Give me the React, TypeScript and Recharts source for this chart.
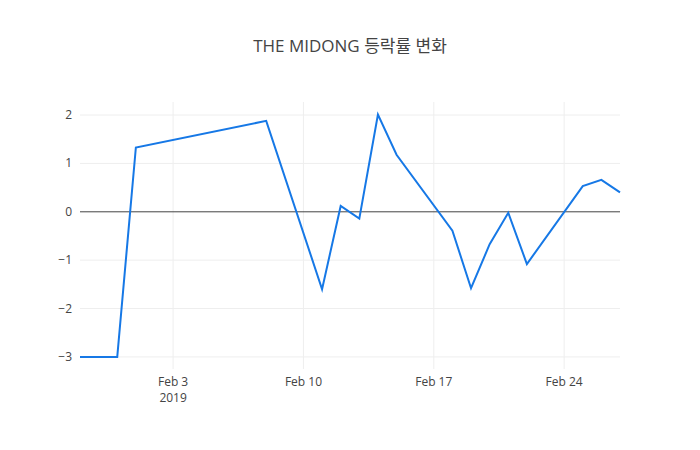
import React from "react"
import {
  LineChart,
  Line,
  XAxis,
  YAxis,
  ReferenceLine,
} from "recharts"

const dates = [
  "2019-01-29", "2019-01-31", "2019-02-01", "2019-02-08", "2019-02-11",
  "2019-02-12", "2019-02-13", "2019-02-14", "2019-02-15", "2019-02-18",
  "2019-02-19", "2019-02-20", "2019-02-21", "2019-02-22", "2019-02-25",
  "2019-02-26", "2019-02-27",
]

const changeRate = [
  -3, -3, 1.33, 1.88, -1.6,
  0.12, -0.14, 2.01, 1.18, -0.39,
  -1.58, -0.67, -0.02, -1.08, 0.53,
  0.66, 0.4,
]

const xTickDates = ["2019-02-03", "2019-02-10", "2019-02-17", "2019-02-24"]
const yTicks = [-3, -2, -1, 0, 1, 2]
const monthNames = ["Jan", "Feb", "Mar"]

const toTime = (d: string) => Date.parse(d + "T00:00:00Z")

const data = dates.map((d, i) => ({ t: toTime(d), value: changeRate[i] }))
const xTicks = xTickDates.map(toTime)

const FONT = '"Open Sans", "Noto Sans CJK KR", sans-serif'
const INK = "#444"
const GRID = "#eee"

function DateTick({ x, y, payload, index }: any) {
  const d = new Date(payload.value)
  const label = `${monthNames[d.getUTCMonth()]} ${d.getUTCDate()}`
  return (
    <g transform={`translate(${x},${y})`}>
      <text textAnchor="middle" fontSize={12} fill={INK} fontFamily={FONT} dy={9}>
        {label}
      </text>
      {index === 0 && (
        <text textAnchor="middle" fontSize={12} fill={INK} fontFamily={FONT} dy={25}>
          {d.getUTCFullYear()}
        </text>
      )}
    </g>
  )
}

function ValueTick({ x, y, payload }: any) {
  const v = payload.value as number
  const label = v < 0 ? `\u2212${Math.abs(v)}` : `${v}`
  return (
    <text x={x} y={y} dy={4} textAnchor="end" fontSize={12} fill={INK} fontFamily={FONT}>
      {label}
    </text>
  )
}

export default function App() {
  return (
    <div style={{ position: "absolute", left: 0, top: 0, width: 700, height: 450, background: "#fff" }}>
      <div
        style={{
          position: "absolute",
          top: 32,
          left: 0,
          width: 700,
          textAlign: "center",
          fontFamily: FONT,
          fontSize: 17,
          color: INK,
        }}
      >
        THE MIDONG 등락률 변화
      </div>
      <LineChart
        width={700}
        height={450}
        data={data}
        margin={{ top: 102, right: 80, bottom: 51, left: 40 }}
      >
        <XAxis
          dataKey="t"
          type="number"
          scale="time"
          domain={[toTime("2019-01-29"), toTime("2019-02-27")]}
          ticks={xTicks}
          tick={<DateTick />}
          tickLine={false}
          axisLine={false}
          height={30}
          interval={0}
        />
        <YAxis
          type="number"
          domain={[-3.25, 2.27]}
          ticks={yTicks}
          tick={<ValueTick />}
          tickLine={false}
          axisLine={false}
          width={40}
          allowDataOverflow
        />
        {xTicks.map((t) => (
          <ReferenceLine key={`vx${t}`} x={t} stroke={GRID} strokeWidth={1} />
        ))}
        {yTicks.filter((v) => v !== 0).map((v) => (
          <ReferenceLine key={`hy${v}`} y={v} stroke={GRID} strokeWidth={1} />
        ))}
        <ReferenceLine y={0} stroke={INK} strokeWidth={1} />
        <Line
          type="linear"
          dataKey="value"
          stroke="#1678e6"
          strokeWidth={2}
          dot={false}
          isAnimationActive={false}
        />
      </LineChart>
    </div>
  )
}
